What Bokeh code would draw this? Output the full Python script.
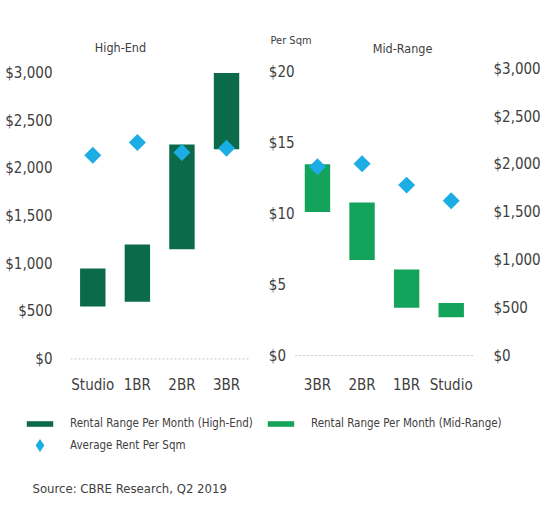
import math
from bokeh.plotting import figure
from bokeh.models import (Range1d, FactorRange, LinearAxis, FixedTicker, NumeralTickFormatter,
                          Label, Legend, LegendItem, ColumnDataSource)
from bokeh.layouts import column
from bokeh.embed import file_html
from bokeh.resources import INLINE

# ---------------- data ----------------
he_cats = ["Studio", "1BR", "2BR", "3BR"]
he_low = [550, 600, 1150, 2200]
he_high = [950, 1200, 2250, 3000]
he_psqm = [14.1, 15.0, 14.3, 14.6]

mr_cats = ["3BR", "2BR", "1BR", "Studio"]
mr_low = [1500, 1000, 500, 400]
mr_high = [2000, 1600, 900, 550]
mr_psqm = [13.3, 13.5, 12.0, 10.9]

month_ticks = [0, 500, 1000, 1500, 2000, 2500, 3000]
sqm_ticks = [0, 5, 10, 15, 20]
sqm_tick_labels = ["$%d" % t for t in sqm_ticks]

# ---------------- style ----------------
FONT = "DejaVu Sans Condensed"
TXT = "#404040"
DARK = "#0b6a4a"
MID = "#14a35b"
BLUE = "#1badE4"
DOT = "#c8c8c8"


def style_axis(ax, size="15px", standoff=10):
    ax.major_label_text_font = FONT
    ax.major_label_text_font_size = size
    ax.major_label_text_color = TXT
    ax.axis_line_color = None
    ax.major_tick_line_color = None
    ax.minor_tick_line_color = None
    ax.major_tick_out = 0
    ax.major_tick_in = 0
    ax.major_label_standoff = standoff


# ---------------- main chart (both panels) ----------------
factors = [("High-End", c) for c in he_cats] + [("Mid-Range", c) for c in mr_cats]
p = figure(width=556, height=408,
           x_range=FactorRange(*factors, range_padding=0, group_padding=1.04),
           y_range=Range1d(-100, 3446), y_axis_location=None,
           output_backend="svg", toolbar_location=None,
           min_border_left=70, min_border_right=83, min_border_top=30, min_border_bottom=40)
p.frame_align = False
p.extra_y_ranges = {"mid": Range1d(-136, 3400), "sqm": Range1d(-0.915, 22.89)}
p.outline_line_color = None
p.xgrid.grid_line_color = None
p.ygrid.grid_line_color = None
p.background_fill_color = "white"
p.border_fill_color = "white"

xa = p.xaxis[0]
style_axis(xa, standoff=7)
xa.group_text_color = None
xa.group_text_font_size = "1px"
xa.separator_line_color = None

ax_l = LinearAxis(ticker=FixedTicker(ticks=month_ticks), formatter=NumeralTickFormatter(format="$0,0"))
style_axis(ax_l, standoff=18)
p.add_layout(ax_l, "left")
ax_r = LinearAxis(y_range_name="mid", ticker=FixedTicker(ticks=month_ticks),
                  formatter=NumeralTickFormatter(format="$0,0"))
style_axis(ax_r, standoff=20)
p.add_layout(ax_r, "right")

# dotted zero baselines of each panel
p.segment(x0=[("High-End", he_cats[0], -0.5)], x1=[("High-End", he_cats[-1], 0.5)], y0=[0], y1=[0],
          line_color=DOT, line_dash="2 2", line_width=1)
p.segment(x0=[("Mid-Range", mr_cats[0], -0.5)], x1=[("Mid-Range", mr_cats[-1], 0.5)], y0=[0], y1=[0],
          y_range_name="mid", line_color=DOT, line_dash="2 2", line_width=1)

src1 = ColumnDataSource(dict(x=[("High-End", c) for c in he_cats], low=he_low, high=he_high, psqm=he_psqm))
src2 = ColumnDataSource(dict(x=[("Mid-Range", c) for c in mr_cats], low=mr_low, high=mr_high, psqm=mr_psqm))

p.vbar(x="x", bottom="low", top="high", width=0.57, source=src1, fill_color=DARK, line_color=None)
p.vbar(x="x", bottom="low", top="high", width=0.57, source=src2, y_range_name="mid",
       fill_color=MID, line_color=None)
for s in (src1, src2):
    p.scatter(x="x", y="psqm", source=s, y_range_name="sqm", marker="square", size=12,
              angle=math.pi / 4, fill_color=BLUE, line_color=None)

# per-sqm axis labels between the panels
sqm_src = ColumnDataSource(dict(x=[("High-End", he_cats[-1], 0.5)] * len(sqm_ticks),
                                y=sqm_ticks, text=sqm_tick_labels))
p.text(x="x", y="y", text="text", source=sqm_src, y_range_name="sqm", x_offset=20,
       text_font={"value": FONT}, text_font_size="15px", text_color=TXT,
       text_align="left", text_baseline="middle")


def lab(text, x, y, size, align):
    p.add_layout(Label(x=x, y=y, x_units="screen", y_units="screen", text=text,
                       text_font=FONT, text_font_size=size, text_color=TXT,
                       text_align=align, text_baseline="middle"))


lab("High-End", 50, 321, "12.5px", "center")
lab("Mid-Range", 332, 320, "12.5px", "center")
lab("Per Sqm", 200, 328, "11px", "left")

# ---------------- legend / source ----------------
p3 = figure(width=556, height=104, x_range=FactorRange(*he_cats), y_range=Range1d(0, 1),
            x_axis_type=None, y_axis_type=None, output_backend="svg", toolbar_location=None,
            min_border=0, min_border_left=0, min_border_right=0, min_border_top=0, min_border_bottom=0)
p3.frame_align = False
p3.outline_line_color = None
p3.background_fill_color = "white"
p3.border_fill_color = "white"
lsrc1 = ColumnDataSource(dict(x=he_cats, low=he_low, high=he_high, psqm=he_psqm))
lsrc2 = ColumnDataSource(dict(x=mr_cats, low=mr_low, high=mr_high, psqm=mr_psqm))
r_dark = p3.vbar(x="x", bottom="low", top="high", width=0.5, source=lsrc1,
                 fill_color=DARK, line_color=None, visible=False)
r_mid = p3.vbar(x="x", bottom="low", top="high", width=0.5, source=lsrc2,
                fill_color=MID, line_color=None, visible=False)
r_dia = p3.scatter(x="x", y="psqm", source=lsrc1, marker="diamond", size=10,
                   fill_color=BLUE, line_color=None, visible=False)


def mk_legend(label, rend, loc, gh):
    lg = Legend(items=[LegendItem(label=label, renderers=[rend])], location=loc,
                glyph_width=33, glyph_height=gh, label_standoff=14, padding=0, margin=0,
                spacing=0, border_line_color=None, background_fill_alpha=0,
                label_text_font=FONT, label_text_font_size="11.5px", label_text_color=TXT,
                label_height=gh)
    p3.add_layout(lg)


mk_legend("Rental Range Per Month (High-End)", r_dark, (23, 82), 7)
mk_legend("Rental Range Per Month (Mid-Range)", r_mid, (264, 82), 7)
mk_legend("Average Rent Per Sqm", r_dia, (23, 49), 36)

p3.add_layout(Label(x=32, y=24, x_units="screen", y_units="screen", text="Source: CBRE Research, Q2 2019",
                    text_font=FONT, text_font_size="13px", text_color=TXT,
                    text_align="left", text_baseline="middle"))

layout = column(p, p3, spacing=0)
open("out.html", "w").write(file_html(layout, INLINE))
